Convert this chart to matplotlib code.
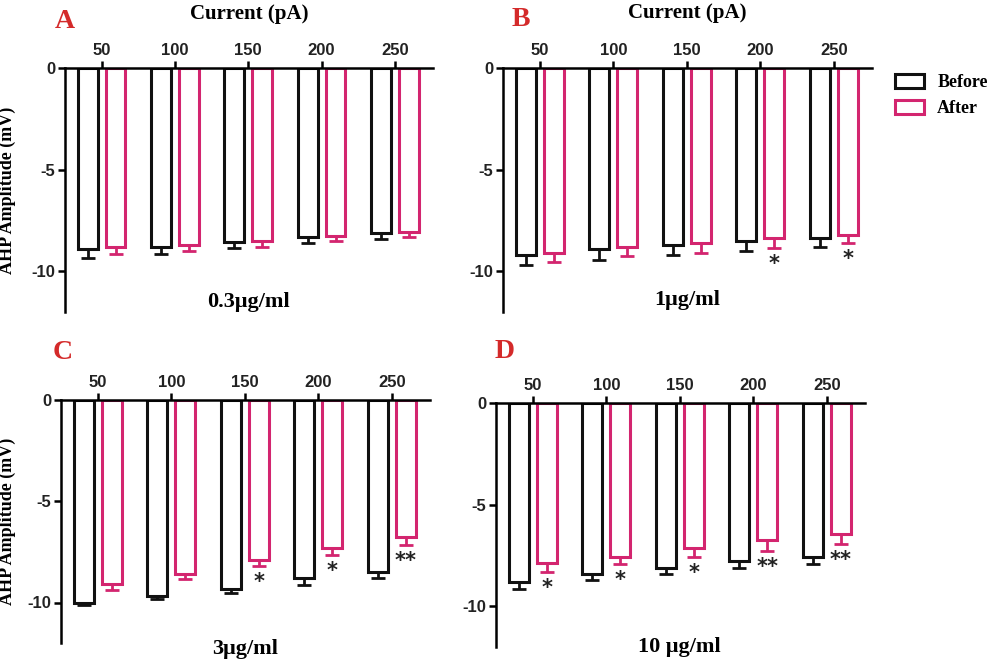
import matplotlib
matplotlib.use('Agg')
import matplotlib.pyplot as plt
from matplotlib.patches import Patch
import numpy as np

# 数据: AHP amplitude (mV), before / after, at each injected current
currents = [50, 100, 150, 200, 250]
panels = ['A', 'B', 'C', 'D']
doses = ['0.3\u03bcg/ml', '1\u03bcg/ml', '3\u03bcg/ml', '10 \u03bcg/ml']

before_a = [-8.9, -8.8, -8.55, -8.3, -8.1]
before_a_err = [0.45, 0.35, 0.3, 0.3, 0.3]
after_a = [-8.8, -8.7, -8.5, -8.25, -8.05]
after_a_err = [0.35, 0.3, 0.3, 0.25, 0.25]
stars_a = ['', '', '', '', '']

before_b = [-9.2, -8.9, -8.7, -8.5, -8.35]
before_b_err = [0.5, 0.55, 0.5, 0.5, 0.45]
after_b = [-9.1, -8.8, -8.6, -8.35, -8.2]
after_b_err = [0.45, 0.45, 0.5, 0.5, 0.4]
stars_b = ['', '', '', '*', '*']

before_c = [-10.0, -9.7, -9.35, -8.8, -8.5]
before_c_err = [0.1, 0.15, 0.2, 0.35, 0.3]
after_c = [-9.1, -8.6, -7.9, -7.3, -6.75]
after_c_err = [0.3, 0.25, 0.3, 0.35, 0.4]
stars_c = ['', '', '*', '*', '**']

before_d = [-8.8, -8.4, -8.12, -7.76, -7.55]
before_d_err = [0.35, 0.3, 0.28, 0.35, 0.35]
after_d = [-7.85, -7.55, -7.14, -6.76, -6.44]
after_d_err = [0.45, 0.35, 0.45, 0.5, 0.5]
stars_d = ['*', '*', '*', '**', '**']

before_all = [before_a, before_b, before_c, before_d]
before_err_all = [before_a_err, before_b_err, before_c_err, before_d_err]
after_all = [after_a, after_b, after_c, after_d]
after_err_all = [after_a_err, after_b_err, after_c_err, after_d_err]
stars_all = [stars_a, stars_b, stars_c, stars_d]

BLACK = '#111111'
PINK = '#d3256f'
SERIF = 'Liberation Serif'
SANS = 'Liberation Sans'

W, H = 1000, 664
# axes boxes in pixels: left, top, right, bottom
boxes = [(65, 68, 433, 312), (503, 68, 872, 312),
         (61, 400, 430, 643), (496, 403, 865, 647)]
letter_pos = [(55, 22), (512, 20), (53, 353), (495, 351)]
dose_y = [-11.5, -11.4, -12.3, -12.0]

fig = plt.figure(figsize=(10, 6.64), dpi=100)

x = np.arange(1, 6)
off = 0.19
bw = 0.27

for i in range(4):
    l, t, r, b = boxes[i]
    ax = fig.add_axes([l / W, 1 - b / H, (r - l) / W, (b - t) / H])
    bef = np.array(before_all[i])
    aft = np.array(after_all[i])
    be = np.array(before_err_all[i])
    ae = np.array(after_err_all[i])

    ax.bar(x - off, bef, width=bw, fill=False, edgecolor=BLACK, linewidth=2.2)
    ax.bar(x + off, aft, width=bw, fill=False, edgecolor=PINK, linewidth=2.2)
    ax.errorbar(x - off, bef, yerr=[be, np.zeros(5)], fmt='none', ecolor=BLACK,
                elinewidth=2, capsize=5, capthick=2)
    ax.errorbar(x + off, aft, yerr=[ae, np.zeros(5)], fmt='none', ecolor=PINK,
                elinewidth=2, capsize=5, capthick=2)

    for j in range(5):
        if stars_all[i][j]:
            ax.text(x[j] + off, aft[j] - ae[j] - 0.3, stars_all[i][j], ha='center',
                    va='top', fontsize=15, fontweight='bold', color='#222222',
                    family='DejaVu Sans')

    ax.set_xlim(0.5, 5.52)
    ax.set_ylim(-12, 0)
    ax.spines['bottom'].set_visible(False)
    ax.spines['right'].set_visible(False)
    ax.spines['top'].set_linewidth(1.8)
    ax.spines['left'].set_linewidth(1.8)
    ax.xaxis.tick_top()
    ax.set_xticks(x)
    ax.set_xticklabels([str(c) for c in currents])
    ax.set_yticks([0, -5, -10])
    ax.set_yticklabels(['0', '-5', '-10'])
    ax.tick_params(axis='both', width=1.8, length=5, labelsize=12, pad=2)
    for lab in ax.get_xticklabels() + ax.get_yticklabels():
        lab.set_family(SANS)
        lab.set_fontweight('bold')
        lab.set_color('#222222')

    ax.text(3, dose_y[i], doses[i], ha='center', va='center', fontsize=16,
            fontweight='bold', family=SERIF, clip_on=False)

    if i % 2 == 0:
        ax.set_ylabel('AHP Amplitude (mV)', fontsize=13, fontweight='bold',
                      family=SERIF)
        ax.yaxis.set_label_coords((16 - l) / (r - l), 0.5)

    px, py = letter_pos[i]
    fig.text(px / W, 1 - py / H, panels[i], ha='left', va='center', fontsize=20,
             fontweight='bold', family=SERIF, color='#d42a2a')

fig.text(249 / W, 1 - 14 / H, 'Current (pA)', ha='center', va='center', fontsize=15,
         fontweight='bold', family=SERIF)
fig.text(687 / W, 1 - 13 / H, 'Current (pA)', ha='center', va='center', fontsize=15,
         fontweight='bold', family=SERIF)

handles = [Patch(facecolor='white', edgecolor=BLACK, linewidth=2.2, label='Before'),
           Patch(facecolor='white', edgecolor=PINK, linewidth=2.2, label='After')]
leg = fig.legend(handles=handles, loc='upper left', bbox_to_anchor=(0.893, 1 - 72 / H),
                 frameon=False, handlelength=1.6, handleheight=0.8, labelspacing=0.5,
                 handletextpad=0.75, borderpad=0.1, borderaxespad=0.0,
                 prop={'family': SERIF, 'weight': 'bold', 'size': 13})

fig.savefig('out.png', dpi=100)
